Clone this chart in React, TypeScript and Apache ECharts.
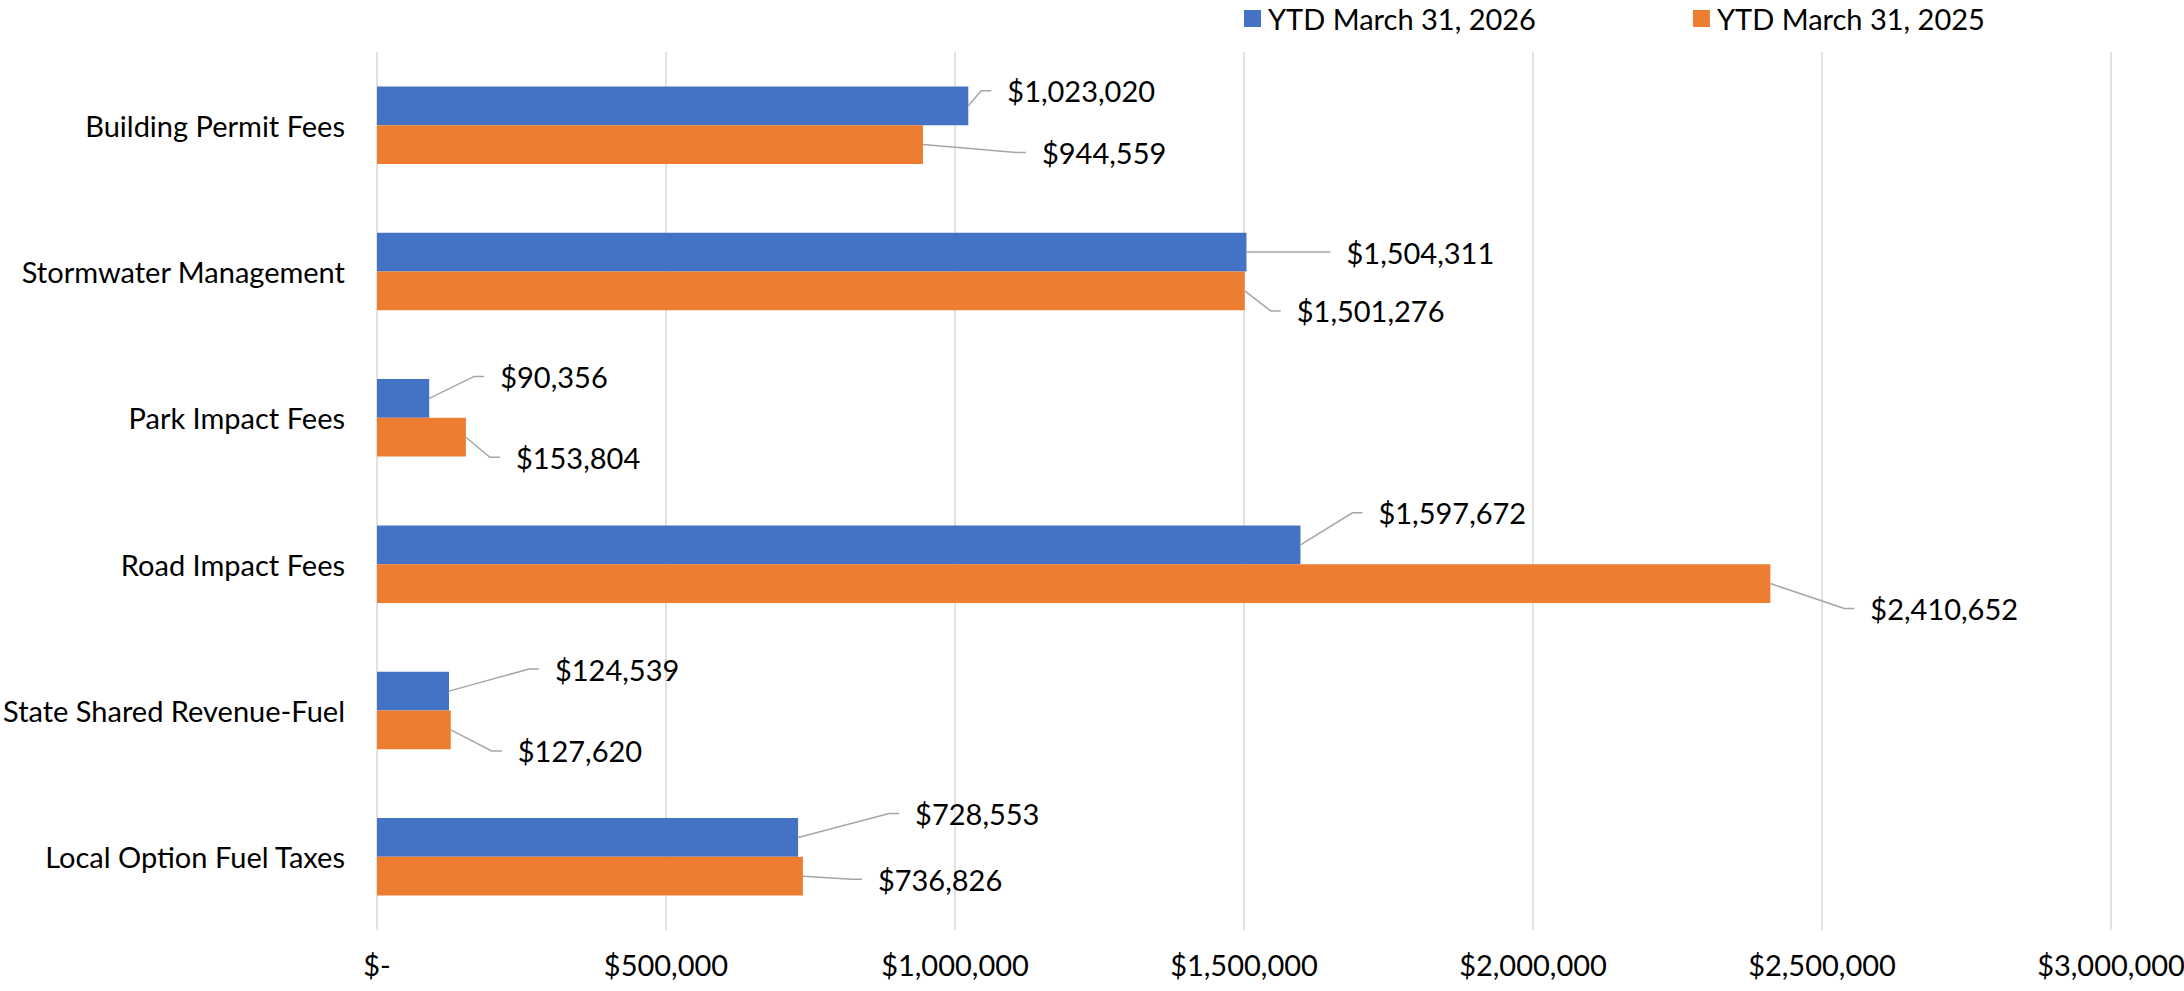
import React, { useEffect, useRef } from "react";
import * as echarts from "echarts";

const categories = [
  "Building Permit Fees",
  "Stormwater Management",
  "Park Impact Fees",
  "Road Impact Fees",
  "State Shared Revenue-Fuel",
  "Local Option Fuel Taxes",
];
const seriesNames = ["YTD March 31, 2026", "YTD March 31, 2025"];
const values2026 = [1023020, 1504311, 90356, 1597672, 124539, 728553];
const values2025 = [944559, 1501276, 153804, 2410652, 127620, 736826];
const xTicks = { min: 0, max: 3000000, interval: 500000 };

// label placement offsets (px): [gap from bar end to label left, shift from bar centre]
const labelOffset2026 = [
  [39, -15], [100, 0], [71, -22], [78, -32], [106, -22], [117, -24],
];
const labelOffset2025 = [
  [119, 8], [52, 20], [50, 20], [100, 25], [67, 21], [75, 3],
];

const FONT = "Lato";
const TXT = "#000000";
const FS = 29;
const CAT_GAP = 0.47;

const money = (v: number) =>
  v === 0 ? "$-" : "$" + Math.round(v).toLocaleString("en-US");

function labelSeries(name: string, values: number[], offsets: number[][], side: number) {
  return {
    name,
    type: "custom",
    silent: true,
    clip: false,
    z: 5,
    encode: { x: 0, y: 1 },
    data: values.map((v, i) => [v, i]),
    renderItem: (params: any, api: any) => {
      const val = api.value(0);
      const idx = api.value(1);
      const pt = api.coord([val, idx]);
      const band = api.size([0, 1])[1];
      const barH = (band * (1 - CAT_GAP)) / 2;
      const x0 = pt[0];
      const y0 = pt[1] + (side * barH) / 2;
      const off = offsets[params.dataIndex];
      const lx = x0 + off[0];
      const ly = y0 + off[1];
      const ex = lx - 16;
      const kx = Math.max(ex - 10, x0 + 2);
      return {
        type: "group",
        children: [
          {
            type: "polyline",
            shape: { points: [[x0, y0], [kx, ly], [ex, ly]] },
            style: { stroke: "#a6a6a6", lineWidth: 1.5, fill: "none" },
          },
          {
            type: "text",
            x: lx,
            y: ly,
            style: {
              text: money(val),
              fill: TXT,
              fontFamily: FONT,
              fontSize: FS,
              align: "left",
              verticalAlign: "middle",
            },
          },
        ],
      };
    },
  };
}

export default function App() {
  const ref = useRef<HTMLDivElement>(null);
  useEffect(() => {
    if (!ref.current) return;
    const chart = echarts.init(ref.current, undefined, { renderer: "svg" });
    chart.setOption({
      animation: false,
      textStyle: { fontFamily: FONT },
      legend: {
        data: seriesNames,
        left: 1244,
        top: 4,
        padding: 0,
        itemWidth: 17,
        itemHeight: 17,
        itemGap: 157,
        icon: "rect",
        textStyle: { color: TXT, fontFamily: FONT, fontSize: FS, padding: [0, 0, 0, 2] },
      },
      grid: {
        left: 377,
        right: 73,
        top: 52,
        bottom: 61,
        containLabel: false,
        outerBoundsMode: "none",
      },
      xAxis: {
        type: "value",
        min: xTicks.min,
        max: xTicks.max,
        interval: xTicks.interval,
        axisLine: { show: false },
        axisTick: { show: false },
        splitLine: { show: true, lineStyle: { color: "#d9d9d9", width: 1.5 } },
        axisLabel: {
          color: TXT,
          fontFamily: FONT,
          fontSize: FS,
          margin: 20,
          formatter: (v: number) => money(v),
        },
      },
      yAxis: {
        type: "category",
        data: categories,
        inverse: true,
        axisLine: { show: false },
        axisTick: { show: false },
        axisLabel: { color: TXT, fontFamily: FONT, fontSize: FS, margin: 32 },
      },
      series: [
        {
          name: seriesNames[0],
          type: "bar",
          data: values2026,
          itemStyle: { color: "#4472C4" },
          barGap: "0%",
          barCategoryGap: CAT_GAP * 100 + "%",
        },
        {
          name: seriesNames[1],
          type: "bar",
          data: values2025,
          itemStyle: { color: "#ED7D31" },
          barGap: "0%",
          barCategoryGap: CAT_GAP * 100 + "%",
        },
        labelSeries("labels2026", values2026, labelOffset2026, -1),
        labelSeries("labels2025", values2025, labelOffset2025, 1),
      ],
    });
    return () => chart.dispose();
  }, []);
  return (
    <div
      ref={ref}
      style={{ position: "fixed", left: 0, top: 0, width: 2184, height: 991, background: "#fff" }}
    />
  );
}
